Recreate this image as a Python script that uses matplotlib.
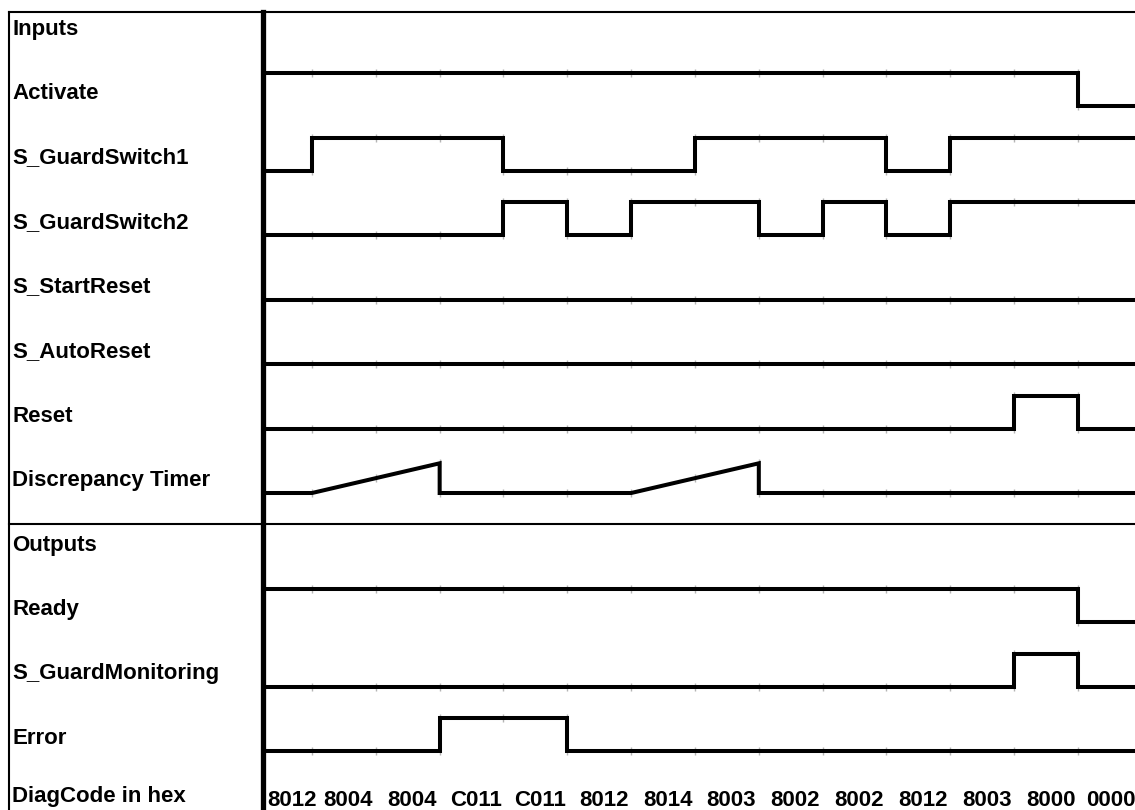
import numpy as np
import matplotlib.pyplot as plt

# Row labels, top to bottom (section headers carry no waveform)
row_labels = ["Inputs", "Activate", "S_GuardSwitch1", "S_GuardSwitch2",
              "S_StartReset", "S_AutoReset", "Reset", "Discrepancy Timer",
              "Outputs", "Ready", "S_GuardMonitoring", "Error"]
diag_label = "DiagCode in hex"

# Digital signals: (row, level at start, grid ticks where the level toggles)
activate = (1, 1, [13])
guard_switch1 = (2, 0, [1, 4, 7, 10, 11])
guard_switch2 = (3, 0, [4, 5, 6, 8, 9, 10, 11])
start_reset = (4, 0, [])
auto_reset = (5, 0, [])
reset = (6, 0, [12, 13])
ready = (9, 1, [13])
guard_monitoring = (10, 0, [12, 13])
error = (11, 0, [3, 5])

# Discrepancy timer ramps (row 7): breakpoints in ticks and relative level
timer_t = [1, 3, 3, 6, 8, 8]
timer_v = [0, 0.9, 0, 0, 0.9, 0]

# DiagCode shown in each interval between grid ticks
diag_codes = ["8012", "8004", "8004", "C011", "C011", "8012", "8014",
              "8003", "8002", "8002", "8012", "8003", "8000", "0000"]
grid_ticks = list(range(1, 14))

# ---- layout (pixel geometry of the figure) ----
W, H = 1135, 810
TICK1_PX, TICK_PX = 312, 63.83
ROW0_PX, ROW_PX = 25.5, 64.5
LOW, HIGH = 16 / ROW_PX, -17 / ROW_PX


def tx(px):
    return 1 + (px - TICK1_PX) / TICK_PX


def ry(py):
    return (py - ROW0_PX) / ROW_PX


t_start, t_end = tx(262.5), tx(W)


def level_y(row, v):
    return row + LOW + np.asarray(v, dtype=float) * (HIGH - LOW)


def step_path(init, edges):
    x, v, cur = [t_start], [init], init
    for e in edges:
        x += [e, e]
        v += [cur, 1 - cur]
        cur = 1 - cur
    x.append(t_end)
    v.append(cur)
    return x, v


plt.rcParams['font.family'] = ['Liberation Sans', 'DejaVu Sans']
fig = plt.figure(figsize=(W / 100, H / 100), dpi=100)
ax = fig.add_axes([0, 0, 1, 1])
ax.set_xlim(tx(0), tx(W))
ax.set_ylim(ry(H), ry(0))
ax.axis('off')

lw = 2.9
paths = []
for row, init, edges in [activate, guard_switch1, guard_switch2, start_reset,
                         auto_reset, reset, ready, guard_monitoring, error]:
    x, v = step_path(init, edges)
    paths.append((row, x, v))
x = [t_start] + timer_t + [t_end]
v = [0] + timer_v + [0]
paths.append((7, x, v))

for row, x, v in paths:
    ax.plot(x, level_y(row, v), color='black', lw=lw,
            solid_joinstyle='miter', solid_capstyle='butt', zorder=3)
    # faint grid marks where the trace crosses each tick
    xs, ys = [], []
    for k in grid_ticks:
        hits = [vv for xx, vv in zip(x, v) if xx == k]
        if not hits:
            hits = [np.interp(k, x, v)]
        for h in hits:
            xs.append(k)
            ys.append(level_y(row, h))
    ax.plot(xs, ys, ls='none', marker='|', ms=6, mew=1.0,
            color='#b5b5b5', zorder=2)

# frame lines
ax.plot([tx(9), t_end], [ry(12), ry(12)], color='black', lw=1.5)
ax.plot([tx(9), tx(9)], [ry(12), ry(H)], color='black', lw=1.5)
ax.plot([tx(9), t_end], [ry(524), ry(524)], color='black', lw=1.5)
ax.plot([t_start, t_start], [ry(12), ry(H)], color='black', lw=3.8, zorder=4)

# labels
for i, lab in enumerate(row_labels):
    ax.text(tx(12), i + 9 / ROW_PX, lab, fontsize=16, fontweight='bold',
            ha='left', va='baseline')
ax.text(tx(12), ry(802), diag_label, fontsize=16, fontweight='bold',
        ha='left', va='baseline')

# DiagCode values
starts = [t_start] + grid_ticks
ends = grid_ticks + [t_end]
for s, e, code in zip(starts, ends, diag_codes):
    ax.text((s + e) / 2 + 0.07, ry(806), code, fontsize=16, fontweight='bold',
            ha='center', va='baseline')

fig.savefig('out.png', dpi=100)
